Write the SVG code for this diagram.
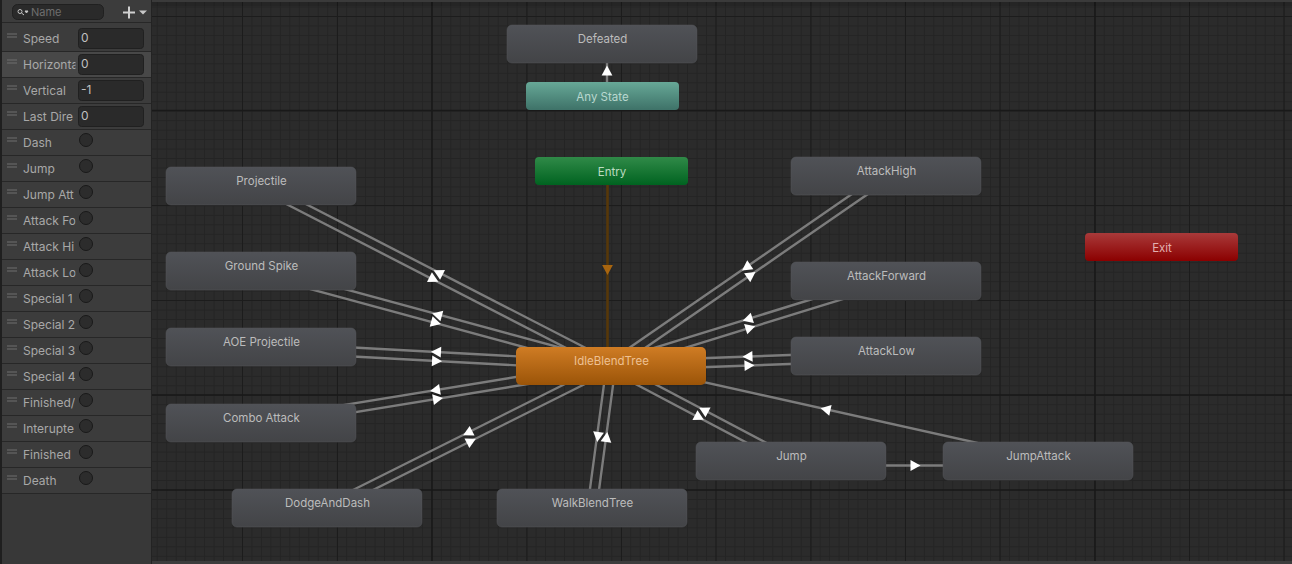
<svg xmlns="http://www.w3.org/2000/svg" width="1292" height="564" viewBox="0 0 1292 564">
<style>
text{font-family:"Inter","Liberation Sans",sans-serif}
.n{font-size:11.5px;text-anchor:middle;fill:#bcbcbc}
.p{font-size:12px;fill:#a8a8a8}
.v{font-size:12px;fill:#c0c0c0}
.f{fill:#2a2a2a;stroke:#202020}
.c{fill:#2c2c2c;stroke:#191919;stroke-width:1}
.sep{stroke:#272727;stroke-width:1}
.h{stroke:#6f6f6f;stroke-width:1;fill:none}
.t{stroke:#7c7c7c;stroke-width:2.4;fill:none}
.a{fill:#fff}
.b{stroke:#55565a;stroke-width:.5}
</style>
<defs>
<pattern id="minor" patternUnits="userSpaceOnUse" x="242" y="16" width="9.47" height="9.47"><rect width="9.47" height="9.47" fill="#2b2b2b"/><rect width="1" height="9.47" fill="#242424"/><rect width="9.47" height="1" fill="#242424"/></pattern>
<linearGradient id="gGrey" x1="0" y1="0" x2="0" y2="1"><stop offset="0" stop-color="#505257"/><stop offset="1" stop-color="#434447"/></linearGradient>
<linearGradient id="gAny" x1="0" y1="0" x2="0" y2="1"><stop offset="0" stop-color="#67a897"/><stop offset="1" stop-color="#3e7268"/></linearGradient>
<linearGradient id="gEntry" x1="0" y1="0" x2="0" y2="1"><stop offset="0" stop-color="#308a48"/><stop offset="1" stop-color="#006320"/></linearGradient>
<linearGradient id="gIdle" x1="0" y1="0" x2="0" y2="1"><stop offset="0" stop-color="#cf7c24"/><stop offset="1" stop-color="#9b5408"/></linearGradient>
<linearGradient id="gExit" x1="0" y1="0" x2="0" y2="1"><stop offset="0" stop-color="#a93a3a"/><stop offset="1" stop-color="#8b0000"/></linearGradient>
<path id="arrow" d="M6 0L-4 -5.4L-4 5.4Z"/>
<clipPath id="nameClip"><rect x="0" y="22" width="75.5" height="480"/></clipPath>
</defs>
<g id="grid">
<rect x="152" y="0" width="1140" height="564" fill="url(#minor)"/>
<path d="M242.5 2V561M337.5 2V561M527 2V561M621.5 2V561M716 2V561M811 2V561M905.5 2V561M1000 2V561M1189.5 2V561M1284 2V561M152 16.5H1292M152 205.5H1292M152 300.5H1292" stroke="#1c1c1c" stroke-width="1" fill="none"/>
<path d="M432 2V561M1095 2V561M152 110.5H1292M152 395H1292M152 490H1292" stroke="#191919" stroke-width="1.6" fill="none"/>
<rect x="152" y="0" width="1140" height="2" fill="#3a3a3a"/>
<rect x="152" y="2" width="1140" height="4" fill="#000" opacity=".12"/>
<rect x="152" y="561" width="1140" height="3" fill="#3c3c3c"/>
</g>
<g id="parameters">
<rect x="0" y="0" width="152" height="564" fill="#383838"/>
<rect x="0" y="0" width="2" height="564" fill="#1f1f1f"/>
<rect x="151" y="0" width="1" height="564" fill="#232323"/>
<rect x="2" y="0" width="149" height="494" fill="#3c3c3c"/>
<rect x="2" y="52" width="149" height="26" fill="#484848"/>
<path class="sep" d="M2 22.5H151M2 51.5H151M2 77.5H151M2 103.5H151M2 129.5H151M2 155.5H151M2 181.5H151M2 207.5H151M2 233.5H151M2 259.5H151M2 285.5H151M2 311.5H151M2 337.5H151M2 363.5H151M2 389.5H151M2 415.5H151M2 441.5H151M2 467.5H151M2 493.5H151"/>
<rect class="f" x="12.5" y="4.5" width="91" height="15" rx="5"/>
<circle cx="20" cy="11.5" r="2" fill="none" stroke="#c4c4c4" stroke-width="1"/>
<path d="M21.5 13L24 15M25 11H28L26.5 13Z" stroke="#c4c4c4" stroke-width="1" fill="#c4c4c4"/>
<text x="31" y="16" font-size="11" fill="#6e6e6e">Name</text>
<path d="M123 12.5H135M129 6.5V18.5" stroke="#d0d0d0" stroke-width="2" fill="none"/>
<path d="M139 10.5H147L143 14.5Z" fill="#c8c8c8"/>
<path class="h" d="M7 34H17M7 37H17M7 60H17M7 63H17M7 86H17M7 89H17M7 112H17M7 115H17M7 138H17M7 141H17M7 164H17M7 167H17M7 190H17M7 193H17M7 216H17M7 219H17M7 242H17M7 245H17M7 268H17M7 271H17M7 294H17M7 297H17M7 320H17M7 323H17M7 346H17M7 349H17M7 372H17M7 375H17M7 398H17M7 401H17M7 424H17M7 427H17M7 450H17M7 453H17M7 476H17M7 479H17"/>
<g clip-path="url(#nameClip)">
<text class="p" x="23" y="43">Speed</text>
<text class="p" x="23" y="69">Horizonta</text>
<text class="p" x="23" y="95">Vertical</text>
<text class="p" x="23" y="121">Last Dire</text>
<text class="p" x="23" y="147">Dash</text>
<text class="p" x="23" y="173">Jump</text>
<text class="p" x="23" y="199">Jump Att</text>
<text class="p" x="23" y="225">Attack Fo</text>
<text class="p" x="23" y="251">Attack Hi</text>
<text class="p" x="23" y="277">Attack Lo</text>
<text class="p" x="23" y="303">Special 1</text>
<text class="p" x="23" y="329">Special 2</text>
<text class="p" x="23" y="355">Special 3</text>
<text class="p" x="23" y="381">Special 4</text>
<text class="p" x="23" y="407">Finished/</text>
<text class="p" x="23" y="433">Interupte</text>
<text class="p" x="23" y="459">Finished</text>
<text class="p" x="23" y="485">Death</text>
</g>
<rect class="f" x="78.5" y="28.5" width="65" height="20" rx="3"/>
<rect class="f" x="78.5" y="54.5" width="65" height="20" rx="3"/>
<rect class="f" x="78.5" y="80.5" width="65" height="20" rx="3"/>
<rect class="f" x="78.5" y="106.5" width="65" height="20" rx="3"/>
<text class="v" x="81" y="42">0</text>
<text class="v" x="81" y="68">0</text>
<text class="v" x="81" y="94">-1</text>
<text class="v" x="81" y="120">0</text>
<circle class="c" cx="86" cy="140" r="6.5"/><circle class="c" cx="86" cy="166" r="6.5"/><circle class="c" cx="86" cy="192" r="6.5"/><circle class="c" cx="86" cy="218" r="6.5"/><circle class="c" cx="86" cy="244" r="6.5"/><circle class="c" cx="86" cy="270" r="6.5"/><circle class="c" cx="86" cy="296" r="6.5"/><circle class="c" cx="86" cy="322" r="6.5"/><circle class="c" cx="86" cy="348" r="6.5"/><circle class="c" cx="86" cy="374" r="6.5"/><circle class="c" cx="86" cy="400" r="6.5"/><circle class="c" cx="86" cy="426" r="6.5"/><circle class="c" cx="86" cy="452" r="6.5"/><circle class="c" cx="86" cy="478" r="6.5"/>
</g>
<g id="connectors">
<path class="t" d="M613 362L263 182M259 190L609 370M612.2 361.7L262.2 266.7M259.8 275.3L609.8 370.3M611.2 361.5L261.2 342.5M260.8 351.5L610.8 370.5M610.3 361.6L260.3 418.6M261.7 427.4L611.7 370.4M609 362L325 504M329 512L613 370M606.5 365.4L587.5 507.4M596.5 508.6L615.5 366.6M608.9 370L788.9 465M793.1 457L613.1 362M1039 456.6L612 361.6M791 465.5H1038M611.2 370.5L886.2 360.5M885.8 351.5L610.8 361.5M612.3 370.3L887.3 285.3M884.7 276.7L609.7 361.7M613.6 369.7L888.6 179.7M883.4 172.3L608.4 362.3M607 82V63"/>
<path d="M607.5 185V347" stroke="#573809" stroke-width="2.6" fill="none"/>
<use class="a" href="#arrow" transform="translate(439 273) rotate(207.2)"/>
<use class="a" href="#arrow" transform="translate(433 279) rotate(27.2)"/>
<use class="a" href="#arrow" transform="translate(438 315) rotate(195.2)"/>
<use class="a" href="#arrow" transform="translate(435 322.5) rotate(15.2)"/>
<use class="a" href="#arrow" transform="translate(437 352) rotate(183.1)"/>
<use class="a" href="#arrow" transform="translate(436 361) rotate(3.1)"/>
<use class="a" href="#arrow" transform="translate(436 390) rotate(170.75)"/>
<use class="a" href="#arrow" transform="translate(437 399) rotate(-9.25)"/>
<use class="a" href="#arrow" transform="translate(468.5 432.5) rotate(153.4)"/>
<use class="a" href="#arrow" transform="translate(470.5 441.5) rotate(-26.6)"/>
<use class="a" href="#arrow" transform="translate(598 436) rotate(97.6)"/>
<use class="a" href="#arrow" transform="translate(606.5 438) rotate(-82.4)"/>
<use class="a" href="#arrow" transform="translate(698.5 417) rotate(27.8)"/>
<use class="a" href="#arrow" transform="translate(704.5 410.5) rotate(207.8)"/>
<use class="a" href="#arrow" transform="translate(826.5 409.5) rotate(192.5)"/>
<use class="a" href="#arrow" transform="translate(914.5 465.5)"/>
<use class="a" href="#arrow" transform="translate(748.5 365.5) rotate(-2.1)"/>
<use class="a" href="#arrow" transform="translate(748.5 356.5) rotate(177.9)"/>
<use class="a" href="#arrow" transform="translate(749.5 328) rotate(-17.2)"/>
<use class="a" href="#arrow" transform="translate(748.5 319) rotate(162.8)"/>
<use class="a" href="#arrow" transform="translate(750.5 275.5) rotate(-34.6)"/>
<use class="a" href="#arrow" transform="translate(747 267) rotate(145.4)"/>
<use class="a" href="#arrow" transform="translate(607 71.5) rotate(-90)"/>
<use href="#arrow" fill="#a8650f" transform="translate(607.5 269) rotate(90)"/>
</g>
<g id="node-defeated"><rect class="b" x="507" y="25" width="190" height="38" rx="5" fill="url(#gGrey)"/><text class="n" x="602.5" y="43.3">Defeated</text></g>
<g id="node-anystate"><rect x="526" y="82" width="153" height="28" rx="4" fill="url(#gAny)"/><text class="n" x="602.5" y="100.5" style="fill:#b9d8cf">Any State</text></g>
<g id="node-entry"><rect x="535" y="157" width="153" height="28" rx="4" fill="url(#gEntry)"/><text class="n" x="612" y="175.5" style="fill:#bcdcc2">Entry</text></g>
<g id="node-exit"><rect x="1085" y="233" width="153" height="28" rx="4" fill="url(#gExit)"/><text class="n" x="1162" y="251.5" style="fill:#e2b0b0">Exit</text></g>
<g id="node-projectile"><rect class="b" x="166" y="167" width="190" height="38" rx="5" fill="url(#gGrey)"/><text class="n" x="261.5" y="185.3">Projectile</text></g>
<g id="node-groundspike"><rect class="b" x="166" y="252" width="190" height="38" rx="5" fill="url(#gGrey)"/><text class="n" x="261.5" y="270.3">Ground Spike</text></g>
<g id="node-aoeprojectile"><rect class="b" x="166" y="328" width="190" height="38" rx="5" fill="url(#gGrey)"/><text class="n" x="261.5" y="346.3">AOE Projectile</text></g>
<g id="node-comboattack"><rect class="b" x="166" y="404" width="190" height="38" rx="5" fill="url(#gGrey)"/><text class="n" x="261.5" y="422.3">Combo Attack</text></g>
<g id="node-dodgeanddash"><rect class="b" x="232" y="489" width="190" height="38" rx="5" fill="url(#gGrey)"/><text class="n" x="327.5" y="507.3">DodgeAndDash</text></g>
<g id="node-walkblendtree"><rect class="b" x="497" y="489" width="190" height="38" rx="5" fill="url(#gGrey)"/><text class="n" x="592.5" y="507.3">WalkBlendTree</text></g>
<g id="node-jump"><rect class="b" x="696" y="442" width="190" height="38" rx="5" fill="url(#gGrey)"/><text class="n" x="791.5" y="460.3">Jump</text></g>
<g id="node-jumpattack"><rect class="b" x="943" y="442" width="190" height="38" rx="5" fill="url(#gGrey)"/><text class="n" x="1038.5" y="460.3">JumpAttack</text></g>
<g id="node-attacklow"><rect class="b" x="791" y="337" width="190" height="38" rx="5" fill="url(#gGrey)"/><text class="n" x="886.5" y="355.3">AttackLow</text></g>
<g id="node-attackforward"><rect class="b" x="791" y="262" width="190" height="38" rx="5" fill="url(#gGrey)"/><text class="n" x="886.5" y="280.3">AttackForward</text></g>
<g id="node-attackhigh"><rect class="b" x="791" y="157" width="190" height="38" rx="5" fill="url(#gGrey)"/><text class="n" x="886.5" y="175.3">AttackHigh</text></g>
<g id="node-idleblendtree"><rect x="516" y="347" width="190" height="38" rx="5" fill="url(#gIdle)"/><text class="n" x="611.5" y="365.3" style="fill:#eec193">IdleBlendTree</text></g>
</svg>
